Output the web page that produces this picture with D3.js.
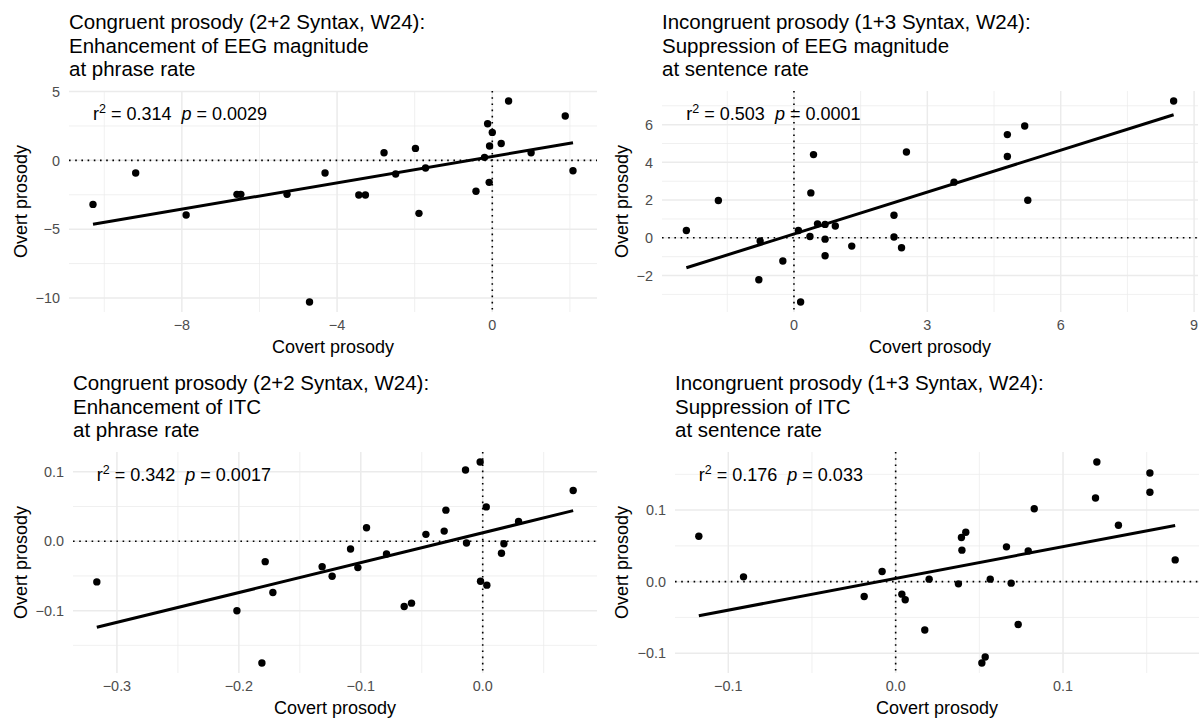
<!DOCTYPE html>
<html>
<head>
<meta charset="utf-8">
<script src="https://cdn.jsdelivr.net/npm/d3@7"></script>
<style>
  body { margin: 0; background: #fff; }
  text { font-family: "Liberation Sans", Arial, Helvetica, sans-serif; }
</style>
</head>
<body>
<div id="chart"></div>
<script>
/* DATA */
// panel 1: congruent, EEG magnitude, phrase rate
const p1x = [-10.29, -9.19, -7.89, -6.58, -6.48, -5.29, -4.71, -4.31, -3.44, -3.27, -2.79, -2.49, -1.98,
  -1.89, -1.72, -0.42, -0.20, -0.08, -0.12, 0.00, -0.07, 0.23, 0.42, 1.00, 1.88, 2.08];
const p1y = [-3.20, -0.92, -3.97, -2.47, -2.47, -2.47, -10.29, -0.92, -2.52, -2.52, 0.55, -0.99, 0.87,
  -3.85, -0.56, -2.25, 0.22, -1.60, 2.66, 2.03, 1.04, 1.23, 4.31, 0.55, 3.22, -0.76];
// panel 2: incongruent, EEG magnitude, sentence rate
const p2x = [-2.42, -1.70, -0.76, -0.79, -0.25, 0.10, 0.15, 0.38, 0.44, 0.36, 0.53, 0.70, 0.70,
  0.70, 0.93, 1.30, 2.25, 2.25, 2.42, 2.53, 3.60, 4.80, 4.80, 5.19, 5.26, 8.54];
const p2y = [0.39, 1.98, -0.17, -2.22, -1.23, 0.39, -3.40, 2.38, 4.41, 0.07, 0.74, 0.71, -0.07,
  -0.95, 0.63, -0.44, 1.20, 0.04, -0.53, 4.55, 2.95, 5.47, 4.31, 5.93, 1.99, 7.25];
// panel 3: congruent, ITC, phrase rate
const p3x = [-0.3165, -0.1784, -0.1721, -0.2016, -0.1811, -0.1317, -0.1235, -0.1084, -0.1024, -0.0953,
  -0.0789, -0.0644, -0.0584, -0.0466, -0.0316, -0.0302, -0.0133, -0.0141, -0.0021, 0.0029,
  -0.0018, 0.0034, 0.0174, 0.0154, 0.0294, 0.0742];
const p3y = [-0.0586, -0.0294, -0.0739, -0.1002, -0.1754, -0.0366, -0.0504, -0.0112, -0.0380, 0.0194,
  -0.0184, -0.0940, -0.0892, 0.0099, 0.0146, 0.0448, -0.0026, 0.1027, 0.1141, 0.0495,
  -0.0576, -0.0633, -0.0036, -0.0174, 0.0286, 0.0731];
// panel 4: incongruent, ITC, sentence rate
const p4x = [-0.1176, -0.0909, -0.0188, -0.0081, 0.0037, 0.0057, 0.0174, 0.0200, 0.0375, 0.0396,
  0.0393, 0.0419, 0.0515, 0.0535, 0.0565, 0.0662, 0.0690, 0.0732, 0.0792, 0.0828,
  0.1194, 0.1202, 0.1331, 0.1519, 0.1519, 0.1670];
const p4y = [0.0635, 0.0067, -0.0208, 0.0141, -0.0175, -0.0254, -0.0677, 0.0035, -0.0031, 0.0440,
  0.0616, 0.0691, -0.1137, -0.1054, 0.0035, 0.0486, -0.0021, -0.0599, 0.0430, 0.1020,
  0.1170, 0.1672, 0.0789, 0.1518, 0.1249, 0.0304];

const titles = [
  ["Congruent prosody (2+2 Syntax, W24):", "Enhancement of EEG magnitude", "at phrase rate"],
  ["Incongruent prosody (1+3 Syntax, W24):", "Suppression of EEG magnitude", "at sentence rate"],
  ["Congruent prosody (2+2 Syntax, W24):", "Enhancement of ITC", "at phrase rate"],
  ["Incongruent prosody (1+3 Syntax, W24):", "Suppression of ITC", "at sentence rate"]
];
const r2Labels = ["0.314", "0.503", "0.342", "0.176"];
const pLabels = ["0.0029", "0.0001", "0.0017", "0.033"];
const xTicks = [[-8, -4, 0], [0, 3, 6, 9], [-0.3, -0.2, -0.1, 0.0], [-0.1, 0.0, 0.1]];
const xMinor = [[-10, -6, -2, 2], [-1.5, 1.5, 4.5, 7.5], [-0.25, -0.15, -0.05, 0.05], [-0.05, 0.05, 0.15]];
const yTicks = [[-10, -5, 0, 5], [-2, 0, 2, 4, 6], [-0.1, 0.0, 0.1], [-0.1, 0.0, 0.1]];
const yMinor = [[-7.5, -2.5, 2.5], [-3, -1, 1, 3, 5, 7], [-0.15, -0.05, 0.05], [-0.05, 0.05, 0.15]];
const tickDigits = [0, 0, 1, 1];

/* LAYOUT */
const width = 1200, height = 718;
const panels = [
  { xs: p1x, ys: p1y, left: 69, right: 597, top: 91, bottom: 312 },
  { xs: p2x, ys: p2y, left: 662, right: 1198, top: 91, bottom: 312 },
  { xs: p3x, ys: p3y, left: 73, right: 597, top: 452, bottom: 673 },
  { xs: p4x, ys: p4y, left: 675, right: 1199, top: 452, bottom: 673 }
];

const svg = d3.select("#chart").append("svg")
  .attr("width", width)
  .attr("height", height);

// ggplot-like 5% expansion
function expand(ext) {
  const pad = (ext[1] - ext[0]) * 0.05;
  return [ext[0] - pad, ext[1] + pad];
}

function fmt(v, digits) {
  const s = Math.abs(v).toFixed(digits);
  return (v < -1e-9 ? "\u2212" : "") + s;
}

panels.forEach((p, i) => {
  const g = svg.append("g");
  const pts = p.xs.map((x, k) => ({ x: x, y: p.ys[k] }));

  const x = d3.scaleLinear().domain(expand(d3.extent(p.xs))).range([p.left, p.right]);
  const y = d3.scaleLinear().domain(expand(d3.extent(p.ys))).range([p.bottom, p.top]);

  // grid
  g.selectAll("line.xminor").data(xMinor[i]).join("line")
    .attr("x1", d => x(d)).attr("x2", d => x(d))
    .attr("y1", p.top).attr("y2", p.bottom)
    .attr("stroke", "#ebebeb").attr("stroke-width", 0.75);
  g.selectAll("line.yminor").data(yMinor[i]).join("line")
    .attr("y1", d => y(d)).attr("y2", d => y(d))
    .attr("x1", p.left).attr("x2", p.right)
    .attr("stroke", "#ebebeb").attr("stroke-width", 0.75);
  g.selectAll("line.xmajor").data(xTicks[i]).join("line")
    .attr("x1", d => x(d)).attr("x2", d => x(d))
    .attr("y1", p.top).attr("y2", p.bottom)
    .attr("stroke", "#ebebeb").attr("stroke-width", 1.5);
  g.selectAll("line.ymajor").data(yTicks[i]).join("line")
    .attr("y1", d => y(d)).attr("y2", d => y(d))
    .attr("x1", p.left).attr("x2", p.right)
    .attr("stroke", "#ebebeb").attr("stroke-width", 1.5);

  // zero reference lines
  g.append("line")
    .attr("x1", p.left).attr("x2", p.right)
    .attr("y1", y(0)).attr("y2", y(0))
    .attr("stroke", "#000").attr("stroke-width", 1.6)
    .attr("stroke-dasharray", "1.6 4.6");
  g.append("line")
    .attr("x1", x(0)).attr("x2", x(0))
    .attr("y1", p.top).attr("y2", p.bottom)
    .attr("stroke", "#000").attr("stroke-width", 1.6)
    .attr("stroke-dasharray", "1.6 4.6");

  // tick labels
  g.selectAll("text.xt").data(xTicks[i]).join("text")
    .attr("x", d => x(d)).attr("y", p.bottom + 18)
    .attr("text-anchor", "middle")
    .attr("font-size", 14.4).attr("fill", "#4d4d4d")
    .text(d => fmt(d, tickDigits[i]));
  g.selectAll("text.yt").data(yTicks[i]).join("text")
    .attr("x", p.left - 9).attr("y", d => y(d))
    .attr("dy", "0.36em")
    .attr("text-anchor", "end")
    .attr("font-size", 14.4).attr("fill", "#4d4d4d")
    .text(d => fmt(d, tickDigits[i]));

  // axis titles
  g.append("text")
    .attr("x", (p.left + p.right) / 2).attr("y", p.bottom + 41)
    .attr("text-anchor", "middle").attr("font-size", 18)
    .text("Covert prosody");
  const yx = i % 2 === 0 ? 27 : 628;
  g.append("text")
    .attr("transform", `translate(${yx},${(p.top + p.bottom) / 2}) rotate(-90)`)
    .attr("text-anchor", "middle").attr("font-size", 18)
    .text("Overt prosody");

  // title
  g.selectAll("text.title").data(titles[i]).join("text")
    .attr("x", p.left)
    .attr("y", (d, k) => p.top - 62 + k * 23.5)
    .attr("font-size", 20.5)
    .text(d => d);

  // regression line (least squares)
  const mx = d3.mean(p.xs), my = d3.mean(p.ys);
  const slope = d3.sum(pts, d => (d.x - mx) * (d.y - my)) / d3.sum(pts, d => (d.x - mx) ** 2);
  const icpt = my - slope * mx;
  const xr = d3.extent(p.xs);
  g.append("line")
    .attr("x1", x(xr[0])).attr("y1", y(icpt + slope * xr[0]))
    .attr("x2", x(xr[1])).attr("y2", y(icpt + slope * xr[1]))
    .attr("stroke", "#000").attr("stroke-width", 3);

  // points
  g.selectAll("circle").data(pts).join("circle")
    .attr("cx", d => x(d.x)).attr("cy", d => y(d.y))
    .attr("r", 3.7).attr("fill", "#000");

  // annotation
  const ann = g.append("text")
    .attr("x", x(xr[0])).attr("y", y(d3.max(p.ys)) + 19)
    .attr("font-size", 18);
  ann.append("tspan").text("r");
  ann.append("tspan").attr("font-size", 12.5).attr("dy", -7).text("2");
  ann.append("tspan").attr("dy", 7).text(" = " + r2Labels[i] + "\u00a0\u00a0");
  ann.append("tspan").attr("font-style", "italic").text("p");
  ann.append("tspan").text(" = " + pLabels[i]);
});
</script>
</body>
</html>
